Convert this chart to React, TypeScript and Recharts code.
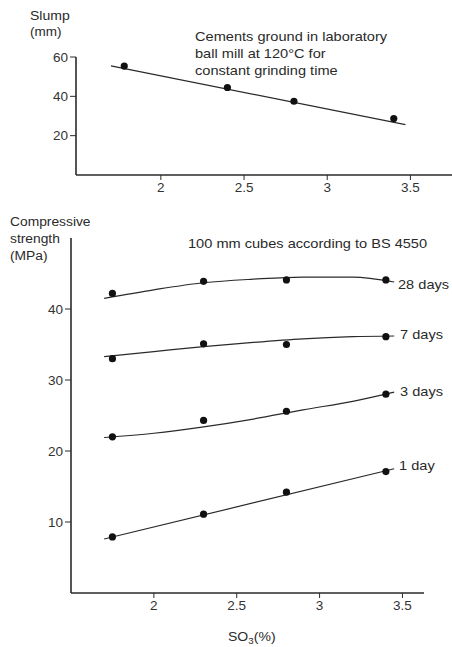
import { ComposedChart, Line, Scatter, XAxis, YAxis } from "recharts";

// top panel: slump vs SO3
const slumpX = [1.78, 2.4, 2.8, 3.4];
const slumpY = [55.4, 44.5, 37.5, 28.7];
const slumpFitX = [1.7, 3.47];
const slumpFitY = [55.5, 25.6];

// bottom panel: compressive strength vs SO3
const strengthX = [1.75, 2.3, 2.8, 3.4];
const day28 = [42.2, 43.9, 44.1, 44.1];
const day7 = [33.0, 35.1, 35.0, 36.1];
const day3 = [22.0, 24.3, 25.6, 28.0];
const day1 = [7.9, 11.1, 14.2, 17.1];

// fitted curves
const curveX = [1.7, 2.0, 2.3, 2.6, 2.9, 3.2, 3.45];
const fit28 = [41.5, 42.7, 43.7, 44.2, 44.5, 44.5, 43.8];
const fit7 = [33.3, 34.0, 34.7, 35.3, 35.8, 36.1, 36.2];
const fit3 = [21.9, 22.5, 23.4, 24.5, 25.8, 27.0, 28.3];
const fit1X = [1.7, 3.45];
const fit1 = [7.6, 17.5];

const xTicks = [2, 2.5, 3, 3.5];
const slumpTicks = [20, 40, 60];
const strengthTicks = [10, 20, 30, 40];

const pts = (xs: number[], ys: number[]) => xs.map((x, i) => ({ x, y: ys[i] }));

const FONT = "Arial, 'Liberation Sans', Helvetica, sans-serif";
const INK = "#2a2a2a";
const tick = { fontSize: 13.5, fill: "#333", fontFamily: FONT };
const axisLine = { stroke: INK, strokeWidth: 1.6 };

const Dot = (p: any) => <circle cx={p.cx} cy={p.cy} r={3.6} fill="#111" />;

// scanned figure is a bit stretched sideways, so text gets a small scaleX
const note = (top: number, left: number, size: number, sx: number, text: any) => (
  <div
    style={{
      position: "absolute", top, left, fontSize: size, lineHeight: "17px", color: INK,
      whiteSpace: "nowrap", transform: `scaleX(${sx})`, transformOrigin: "left center",
    }}
  >
    {text}
  </div>
);

export default function App() {
  const fitLine = (id: string, d: { x: number; y: number }[], type: "monotone" | "linear") => (
    <Line key={id} data={d} dataKey="y" type={type} stroke={INK} strokeWidth={1.2} dot={false} isAnimationActive={false} />
  );
  const dots = (id: string, d: { x: number; y: number }[]) => (
    <Scatter key={id} data={d} dataKey="y" shape={Dot} isAnimationActive={false} />
  );

  return (
    <div style={{ position: "absolute", left: 0, top: 0, width: 452, height: 647, background: "#fff", fontFamily: FONT }}>
      <div style={{ position: "absolute", left: 0, top: 0 }}>
        <ComposedChart width={452} height={200} margin={{ top: 57, right: 0, bottom: 0, left: 0 }}>
          <XAxis type="number" dataKey="x" domain={[1.49, 3.75]} ticks={xTicks} allowDataOverflow
            tick={tick} axisLine={axisLine} tickLine={{ stroke: INK }} tickSize={5} height={25} />
          <YAxis type="number" domain={[0, 60]} ticks={slumpTicks} allowDataOverflow width={76}
            tick={tick} axisLine={axisLine} tickLine={{ stroke: INK }} tickSize={6} />
          {fitLine("slumpfit", pts(slumpFitX, slumpFitY), "linear")}
          {dots("slump", pts(slumpX, slumpY))}
        </ComposedChart>
      </div>

      <div style={{ position: "absolute", left: 0, top: 200 }}>
        <ComposedChart width={452} height={447} margin={{ top: 38, right: 28, bottom: 0, left: 0 }}>
          <XAxis type="number" dataKey="x" domain={[1.5, 3.63]} ticks={xTicks} allowDataOverflow
            tick={tick} axisLine={axisLine} tickLine={{ stroke: INK }} tickSize={5} height={54} />
          <YAxis type="number" domain={[0, 50]} ticks={strengthTicks} allowDataOverflow width={71}
            tick={tick} axisLine={axisLine} tickLine={{ stroke: INK }} tickSize={6} />
          {fitLine("f28", pts(curveX, fit28), "monotone")}
          {fitLine("f7", pts(curveX, fit7), "monotone")}
          {fitLine("f3", pts(curveX, fit3), "monotone")}
          {fitLine("f1", pts(fit1X, fit1), "linear")}
          {dots("d28", pts(strengthX, day28))}
          {dots("d7", pts(strengthX, day7))}
          {dots("d3", pts(strengthX, day3))}
          {dots("d1", pts(strengthX, day1))}
        </ComposedChart>
      </div>

      {note(7, 30, 13, 1.08, "Slump")}
      {note(24, 30, 12.5, 1.08, "(mm)")}
      {note(28, 195, 13.5, 1.08, <>Cements ground in laboratory<br />ball mill at 120°C for<br />constant grinding time</>)}

      {note(214, 10, 12, 1.15, "Compressive")}
      {note(231, 10, 12, 1.15, "strength")}
      {note(248, 10, 12, 1.15, "(MPa)")}
      {note(235, 188, 13.5, 1.08, "100 mm cubes according to BS 4550")}

      {note(276, 398, 13.5, 1.08, "28 days")}
      {note(326, 400, 13.5, 1.08, "7 days")}
      {note(383, 400, 13.5, 1.08, "3 days")}
      {note(457, 399, 13.5, 1.08, "1 day")}

      <div style={{ position: "absolute", top: 628, left: 228, fontSize: 13, lineHeight: "17px", color: INK, whiteSpace: "nowrap", transform: "scaleX(1.08)", transformOrigin: "left center" }}>
        SO<sub style={{ fontSize: 9, verticalAlign: "-3px", lineHeight: 0 }}>3</sub>(%)
      </div>
    </div>
  );
}
